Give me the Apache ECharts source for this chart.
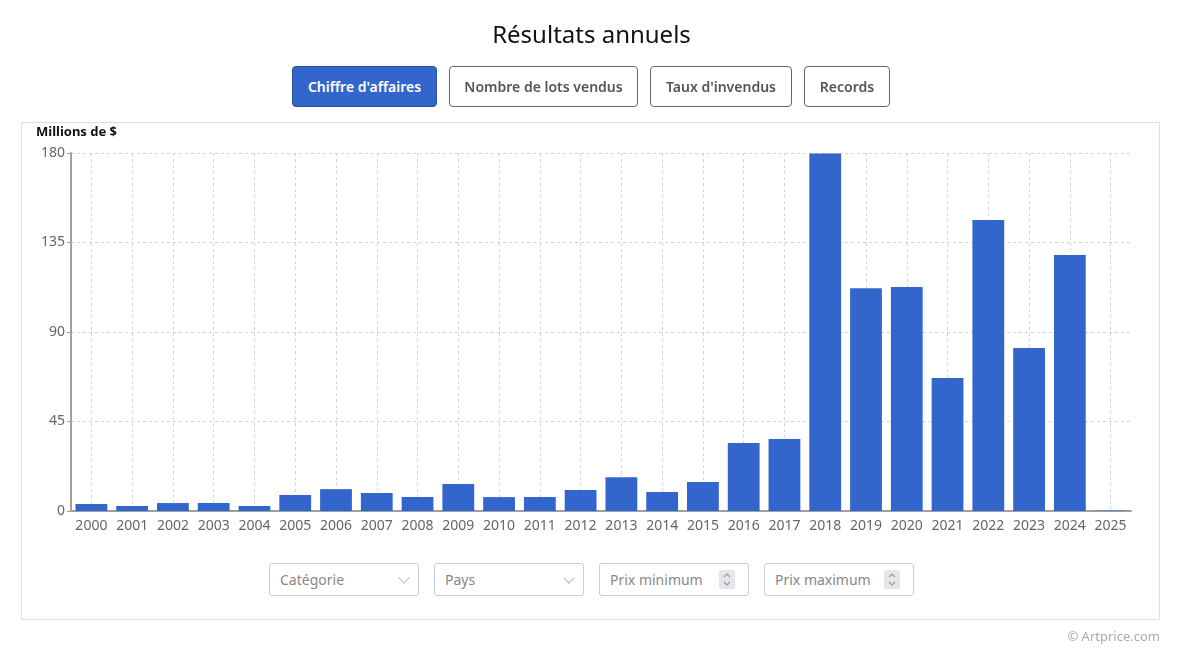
<!DOCTYPE html>
<html>
<head>
<meta charset="utf-8">
<script src="https://cdn.jsdelivr.net/npm/echarts@6/dist/echarts.min.js"></script>
<style>
  html, body { margin:0; padding:0; background:#fff; font-family:"Noto Sans", "Open Sans", sans-serif; }
  #wrap { position:relative; width:1183px; height:653px; overflow:hidden; }
  #chart { position:absolute; left:0; top:0; width:1183px; height:653px; }
  .btn { position:absolute; top:66px; box-sizing:border-box; border:1px solid #666; border-radius:4px;
         background:#fff; color:#555; font-size:14px; font-weight:600; text-align:center; z-index:2; height:41px; line-height:39px;}
  .btn.active { background:#3366cc; color:#fff; border-color:#2a4f99; }
  .sel { position:absolute; top:563px; height:33px; width:150px; box-sizing:border-box; border:1px solid #ccc; border-radius:3px;
         color:#888; font-size:14px; line-height:31px; padding-left:10px; z-index:2; background:#fff; }
  .chev { position:absolute; right:10px; top:10px; width:7px; height:7px; border-right:1.5px solid #bbb; border-bottom:1.5px solid #bbb; transform:rotate(45deg); }
  .spin { position:absolute; right:13px; top:6px; width:16px; height:19px; }
  .copy { position:absolute; right:23px; top:627px; color:#aaa; font-size:13px; z-index:2; }
</style>
</head>
<body>
<div id="wrap">
  <div id="chart"></div>
  <div class="btn active" style="left:292px;width:145px;">Chiffre d'affaires</div>
  <div class="btn" style="left:449px;width:189px;">Nombre de lots vendus</div>
  <div class="btn" style="left:650px;width:142px;">Taux d'invendus</div>
  <div class="btn" style="left:804px;width:86px;">Records</div>
  <div class="sel" style="left:269px;">Catégorie<span class="chev"></span></div>
  <div class="sel" style="left:434px;">Pays<span class="chev"></span></div>
  <div class="sel" style="left:599px;">Prix minimum<svg class="spin" viewBox="0 0 16 19"><rect x="0" y="0" width="16" height="19" rx="2" fill="#e6e6ea"/><path d="M5 7 L8 4 L11 7 M5 12 L8 15 L11 12" stroke="#999" stroke-width="1.1" fill="none"/></svg></div>
  <div class="sel" style="left:764px;">Prix maximum<svg class="spin" viewBox="0 0 16 19"><rect x="0" y="0" width="16" height="19" rx="2" fill="#e6e6ea"/><path d="M5 7 L8 4 L11 7 M5 12 L8 15 L11 12" stroke="#999" stroke-width="1.1" fill="none"/></svg></div>
  <div class="copy">© Artprice.com</div>
</div>
<script>
const titleText = "Résultats annuels";
const unitLabel = "Millions de $";
const years = ["2000","2001","2002","2003","2004","2005","2006","2007","2008","2009","2010","2011","2012",
               "2013","2014","2015","2016","2017","2018","2019","2020","2021","2022","2023","2024","2025"];
const revenue = [3.5, 2.5, 4, 4, 2.5, 8, 11, 9, 7, 13.6, 7, 7, 10.6,
                 17, 9.5, 14.6, 34.2, 36.2, 179.8, 112, 112.6, 66.9, 146.3, 82, 128.7, 0.3];
const yMin = 0, yMax = 180, yStep = 45;

const chart = echarts.init(document.getElementById('chart'), null, {renderer:'canvas'});
const font = '"Noto Sans", "Open Sans", sans-serif';
chart.setOption({
  animation:false,
  textStyle:{fontFamily:font},
  title:{ text:titleText, left:'center', top:19, textStyle:{fontSize:24, fontWeight:'normal', color:'#111', fontFamily:font}},
  graphic:[
    {type:'rect', shape:{x:21.5, y:122.5, width:1138, height:497}, style:{fill:'none', stroke:'#ddd', lineWidth:1}, silent:true},
    {type:'text', left:36, top:126, style:{text:unitLabel, font:'bold 13px '+font, fill:'#111'}}
  ],
  grid:{left:71, right:52, top:153, bottom:142},
  xAxis:{
    type:'category', data:years,
    axisLine:{lineStyle:{color:'#a0a0a0', width:2}},
    axisTick:{alignWithLabel:true, length:4, lineStyle:{color:'#a0a0a0'}},
    axisLabel:{color:'#666', fontSize:14, margin:8, interval:0},
    splitLine:{show:true, alignWithLabel:true, lineStyle:{color:'#d4d4d4', type:[3,3]}}
  },
  yAxis:{
    type:'value', min:yMin, max:yMax, interval:yStep,
    axisLine:{show:true, lineStyle:{color:'#a0a0a0', width:2}},
    axisTick:{show:true, length:4, lineStyle:{color:'#a0a0a0'}},
    axisLabel:{color:'#666', fontSize:14, margin:6},
    splitLine:{show:true, lineStyle:{color:'#d4d4d4', type:[3,3]}}
  },
  series:[{
    type:'bar', data:revenue, barCategoryGap:'22%',
    itemStyle:{color:'#3366cc'}
  }]
});
</script>
</body>
</html>
